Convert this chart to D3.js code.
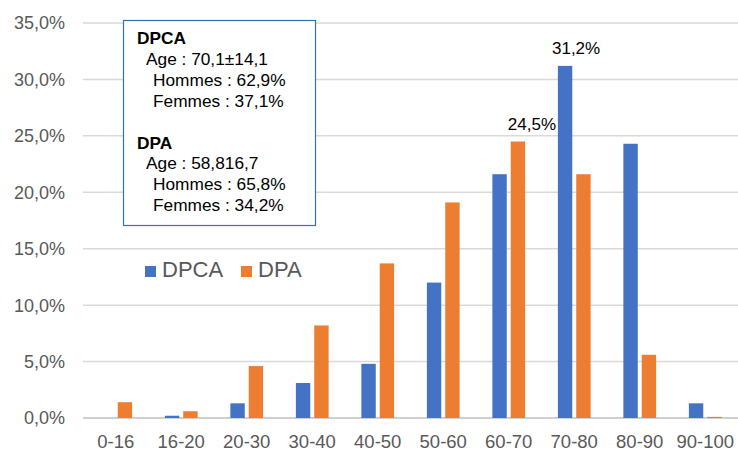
<!DOCTYPE html>
<html>
<head>
<meta charset="utf-8">
<script src="https://cdn.jsdelivr.net/npm/d3@7"></script>
<style>
  body { margin: 0; background: #fff; }
  text { font-family: "Liberation Sans", Arial, sans-serif; }
</style>
</head>
<body>
<div id="chart"></div>
<script>
// data
const categories = ["0-16", "16-20", "20-30", "30-40", "40-50", "50-60", "60-70", "70-80", "80-90", "90-100"];
const series = ["DPCA", "DPA"];
const dpca = [0, 0.2, 1.3, 3.1, 4.8, 12.0, 21.6, 31.2, 24.3, 1.3];
const dpa = [1.4, 0.6, 4.6, 8.2, 13.7, 19.1, 24.5, 21.6, 5.6, 0.1];
const yTicks = [0, 5, 10, 15, 20, 25, 30, 35];
const labelled = [
    { cat: "70-80", key: "DPCA", dx: 11 },
    { cat: "60-70", key: "DPA", dx: 14 }
];
const boxLines = [
    { t: "DPCA", bold: true, indent: 0 },
    { t: "Age : 70,1±14,1", indent: 9 },
    { t: "Hommes : 62,9%", indent: 16 },
    { t: "Femmes : 37,1%", indent: 16 },
    { t: "", indent: 0 },
    { t: "DPA", bold: true, indent: 0 },
    { t: "Age : 58,816,7", indent: 9 },
    { t: "Hommes : 65,8%", indent: 16 },
    { t: "Femmes : 34,2%", indent: 16 }
];

const colors = { DPCA: "#4472C4", DPA: "#ED7D31" };

const width = 738;
const height = 451;
const margin = { top: 23, right: 0, bottom: 33, left: 83 };

const fr = d3.formatLocale({ decimal: ",", thousands: " ", grouping: [3], currency: ["", "€"] });
const pct = fr.format(".1f");

const rows = categories.map((c, i) => ({ cat: c, DPCA: dpca[i], DPA: dpa[i] }));

const svg = d3.select("#chart")
    .append("svg")
    .attr("width", width)
    .attr("height", height);

const x0 = d3.scaleBand()
    .domain(categories)
    .range([margin.left, width - margin.right])
    .paddingInner(0.5)
    .paddingOuter(0.25);

const x1 = d3.scaleBand()
    .domain(series)
    .range([0, x0.bandwidth()])
    .paddingInner(0.216);

const y = d3.scaleLinear()
    .domain([0, 35])
    .range([height - margin.bottom, margin.top]);

// gridlines
svg.append("g")
    .selectAll("line")
    .data(yTicks)
    .join("line")
        .attr("x1", margin.left)
        .attr("x2", width - margin.right)
        .attr("y1", d => y(d))
        .attr("y2", d => y(d))
        .attr("stroke", d => d === 0 ? "#bfbfbf" : "#d9d9d9")
        .attr("stroke-width", 1.5);

// y labels
svg.append("g")
    .selectAll("text")
    .data(yTicks)
    .join("text")
        .attr("x", 65)
        .attr("y", d => y(d))
        .attr("dy", "0.36em")
        .attr("text-anchor", "end")
        .attr("font-size", 18)
        .attr("fill", "#595959")
        .text(d => pct(d) + "%");

// x labels
svg.append("g")
    .selectAll("text")
    .data(categories)
    .join("text")
        .attr("x", d => x0(d) + x0.bandwidth() / 2)
        .attr("y", 448)
        .attr("text-anchor", "middle")
        .attr("font-size", 18.5)
        .attr("fill", "#595959")
        .text(d => d);

// bars
svg.append("g")
    .selectAll("g")
    .data(rows)
    .join("g")
        .attr("transform", d => `translate(${x0(d.cat)},0)`)
    .selectAll("rect")
    .data(d => series.map(k => ({ key: k, value: d[k] })))
    .join("rect")
        .attr("x", d => x1(d.key))
        .attr("width", x1.bandwidth())
        .attr("y", d => y(d.value))
        .attr("height", d => y(0) - y(d.value))
        .attr("fill", d => colors[d.key]);

// data labels
svg.append("g")
    .selectAll("text")
    .data(labelled)
    .join("text")
        .attr("x", d => x0(d.cat) + x1(d.key) + x1.bandwidth() / 2 + d.dx)
        .attr("y", d => {
            const v = rows.find(r => r.cat === d.cat)[d.key];
            return y(v) - 12;
        })
        .attr("text-anchor", "middle")
        .attr("font-size", 17)
        .attr("fill", "#000")
        .text(d => pct(rows.find(r => r.cat === d.cat)[d.key]) + "%");

// legend
const legend = svg.append("g")
    .attr("transform", "translate(145,266)");
const legX = [0, 96];
legend.selectAll("rect")
    .data(series)
    .join("rect")
        .attr("x", (d, i) => legX[i])
        .attr("y", 0)
        .attr("width", 11)
        .attr("height", 11)
        .attr("fill", d => colors[d]);
legend.selectAll("text")
    .data(series)
    .join("text")
        .attr("x", (d, i) => legX[i] + 17)
        .attr("y", 11)
        .attr("font-size", 22)
        .attr("fill", "#595959")
        .text(d => d);

// info box
svg.append("rect")
    .attr("x", 123.5)
    .attr("y", 20.5)
    .attr("width", 192)
    .attr("height", 205)
    .attr("fill", "#fff")
    .attr("stroke", "#2E75B6")
    .attr("stroke-width", 1.2);

svg.append("g")
    .selectAll("text")
    .data(boxLines)
    .join("text")
        .attr("x", d => 137 + d.indent)
        .attr("y", (d, i) => 44 + i * 20.9)
        .attr("font-size", 17.3)
        .attr("font-weight", d => d.bold ? "bold" : "normal")
        .attr("fill", "#000")
        .text(d => d.t);
</script>
</body>
</html>
